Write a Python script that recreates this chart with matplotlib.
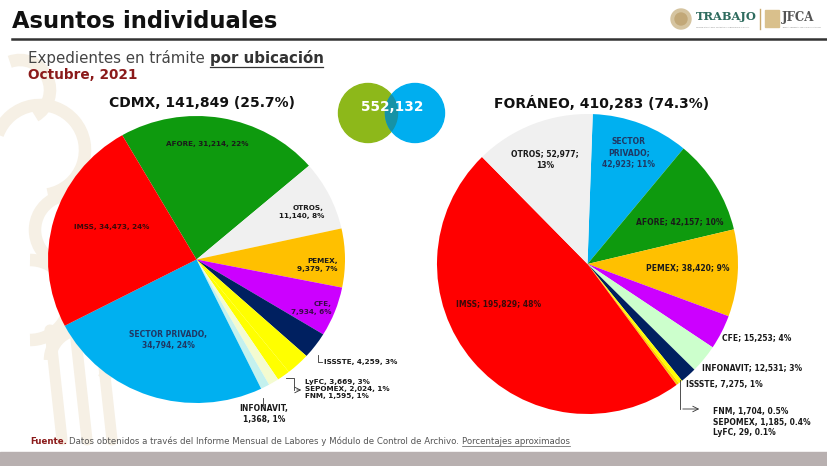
import matplotlib
matplotlib.use('Agg')
import matplotlib.pyplot as plt
from matplotlib.patches import Circle, Rectangle, Arc, Polygon
import numpy as np

W, H = 828, 466

# ---------------- data ----------------
cdmx_cats = ['AFORE', 'OTROS', 'PEMEX', 'CFE', 'ISSSTE', 'LyFC', 'SEPOMEX', 'FNM',
             'INFONAVIT', 'SECTOR PRIVADO', 'IMSS']
cdmx_vals = [31214, 11140, 9379, 7934, 4259, 3669, 2024, 1595, 1368, 34794, 34473]
cdmx_pcts = ['22%', '8%', '7%', '6%', '3%', '3%', '1%', '1%', '1%', '24%', '24%']
cdmx_colors = ['#0E9A0E', '#F0F0F0', '#FFC000', '#CC00FF', '#002060', '#FFFF00',
               '#FFFF00', '#F4FBD0', '#C4F1EE', '#00B0F0', '#FF0000']

for_cats = ['SECTOR PRIVADO', 'AFORE', 'PEMEX', 'CFE', 'INFONAVIT', 'ISSSTE', 'FNM',
            'SEPOMEX', 'LyFC', 'IMSS', 'OTROS']
for_vals = [42923, 42157, 38420, 15253, 12531, 7275, 1704, 1185, 29, 195829, 52977]
for_pcts = ['11%', '10%', '9%', '4%', '3%', '1%', '0.5%', '0.4%', '0.1%', '48%', '13%']
for_colors = ['#00B0F0', '#0E9A0E', '#FFC000', '#CC00FF', '#CCFFCC', '#002060',
              '#FFFF00', '#FFD000', '#FFFF00', '#FF0000', '#F0F0F0']

cdmx_total, cdmx_share = 141849, '25.7%'
for_total, for_share = 410283, '74.3%'
grand_total = 552132


def fmt(v):
    return f'{v:,}'


fig = plt.figure(figsize=(W / 100, H / 100), dpi=100)
fig.patch.set_facecolor('white')


def px_axes(x0, y0, x1, y1, z=1):
    return fig.add_axes([x0 / W, 1 - y1 / H, (x1 - x0) / W, (y1 - y0) / H], zorder=z)


# background overlay (under pies) for decorative motif
bg = px_axes(0, 0, W, H, z=0)
bg.set_xlim(0, W); bg.set_ylim(H, 0); bg.axis('off')
beige = '#F6F0E5'
for (cx, cy, r, t1, t2) in [(40, 150, 45, 200, 80), (70, 230, 35, 120, 360),
                            (30, 300, 40, 270, 90), (80, 360, 30, 180, 400),
                            (20, 90, 30, 250, 60)]:
    bg.add_patch(Arc((cx, cy), 2 * r, 2 * r, theta1=t1, theta2=t2, color=beige, lw=9))
for xx in [50, 75, 100]:
    bg.plot([xx, xx + 12], [330, 440], color=beige, lw=8, solid_capstyle='round')

# ---------------- pies ----------------
axL = px_axes(48, 116, 345, 403, z=1)
axL.pie(cdmx_vals, colors=cdmx_colors, startangle=120, counterclock=False,
        wedgeprops=dict(linewidth=0))
axL.set_aspect('auto'); axL.set_xlim(-1, 1); axL.set_ylim(-1, 1); axL.axis('off')

axR = px_axes(437, 114, 738, 414, z=1)
axR.pie(for_vals, colors=for_colors, startangle=88, counterclock=False,
        wedgeprops=dict(linewidth=0))
axR.set_aspect('auto'); axR.set_xlim(-1, 1); axR.set_ylim(-1, 1); axR.axis('off')

# ---------------- overlay ----------------
ov = px_axes(0, 0, W, H, z=5)
ov.set_xlim(0, W); ov.set_ylim(H, 0); ov.axis('off')
ov.patch.set_alpha(0)
inv = ov.transData.inverted()


def right_end(t):
    fig.canvas.draw()
    return inv.transform((t.get_window_extent().x1, 0))[0]


# header
ov.text(12, 21, 'Asuntos individuales', fontsize=16.3, fontweight='bold', color='#111111',
        ha='left', va='center')
ov.plot([12, W], [39, 39], color='#333333', lw=1.8)

# logos
ov.add_patch(Circle((681, 19), 10, color='#D5C4A0'))
ov.add_patch(Circle((681, 19), 6, color='#C2A878'))
ov.text(696, 16, 'TRABAJO', fontsize=8.2, fontweight='bold', family='DejaVu Serif',
        color='#2E6B5E', ha='left', va='center')
ov.text(696, 27, 'SECRETARÍA DEL TRABAJO Y PREVISIÓN SOCIAL', fontsize=1.6,
        color='#888888', ha='left', va='center')
ov.plot([760, 760], [9, 29], color='#C9A96E', lw=1)
ov.add_patch(Rectangle((765, 10), 14, 17, color='#D9C08C'))
ov.text(782, 17, 'JFCA', fontsize=8.5, fontweight='bold', family='DejaVu Serif',
        color='#555555', ha='left', va='center')
ov.text(782, 27, 'JUNTA FEDERAL DE CONCILIACIÓN', fontsize=1.6, color='#888888',
        ha='left', va='center')

# subtitle
t1 = ov.text(28, 58, 'Expedientes en trámite ', fontsize=10.8, color='#444444',
             ha='left', va='center')
xe = right_end(t1)
t2 = ov.text(xe, 58, 'por ubicación', fontsize=10.8, color='#333333',
             fontweight='bold', ha='left', va='center')
xe2 = right_end(t2)
ov.plot([xe, xe2], [66.5, 66.5], color='#333333', lw=0.9)
ov.text(28, 75, 'Octubre, 2021', fontsize=9.8, color='#8B1A1A', fontweight='bold',
        ha='left', va='center')

# pie titles
ov.text(202, 103, f'CDMX, {fmt(cdmx_total)} ({cdmx_share})', fontsize=10,
        fontweight='bold', color='#111111', ha='center', va='center')
ov.text(602, 103, f'FORÁNEO, {fmt(for_total)} ({for_share})', fontsize=10,
        fontweight='bold', color='#111111', ha='center', va='center')

# Venn total
c1, c2, rv = (368, 113), (415, 113), 29.5
ov.add_patch(Circle(c1, rv, color='#8DB81A', zorder=1))
ov.add_patch(Circle(c2, rv, color='#00AEEF', zorder=2))
d = c2[0] - c1[0]
th = np.arccos((d / 2) / rv)
a1 = np.linspace(-th, th, 40)
a2 = np.linspace(np.pi - th, np.pi + th, 40)
lens = np.vstack([np.column_stack([c1[0] + rv * np.cos(a1), c1[1] + rv * np.sin(a1)]),
                  np.column_stack([c2[0] + rv * np.cos(a2), c2[1] + rv * np.sin(a2)])])
ov.add_patch(Polygon(lens, closed=True, color='#1692A6', zorder=3))
ov.text(392, 107, fmt(grand_total), fontsize=9.8, fontweight='bold', color='white',
        ha='center', va='center', zorder=4)

LF = 5.2
dark = '#1A1A1A'
navy = '#1F3864'


def L(cats, vals, pcts, name, sep):
    i = cats.index(name)
    return f'{cats[i]}{sep}{fmt(vals[i])}{sep}{pcts[i]}'


def parts(cats, vals, pcts, name):
    i = cats.index(name)
    return cats[i], fmt(vals[i]), pcts[i]


# ---- left pie labels
c = (cdmx_cats, cdmx_vals, cdmx_pcts)
ov.text(207, 144, L(*c, 'AFORE', ', '), fontsize=LF, fontweight='bold', color=dark,
        ha='center', va='center')
ov.text(112, 227, L(*c, 'IMSS', ', '), fontsize=LF, fontweight='bold', color='#3A0A0A',
        ha='center', va='center')
n, v, p = parts(*c, 'OTROS')
ov.text(324, 212, f'{n},\n{v}, {p}', fontsize=LF, fontweight='bold', color=dark,
        ha='right', va='center', linespacing=1.3)
n, v, p = parts(*c, 'PEMEX')
ov.text(338, 265, f'{n},\n{v}, {p}', fontsize=LF, fontweight='bold', color=dark,
        ha='right', va='center', linespacing=1.3)
n, v, p = parts(*c, 'CFE')
ov.text(332, 308, f'{n},\n{v}, {p}', fontsize=LF, fontweight='bold', color='#3A0A4A',
        ha='right', va='center', linespacing=1.3)
n, v, p = parts(*c, 'SECTOR PRIVADO')
ov.text(168, 340, f'{n},\n{v}, {p}', fontsize=LF + 0.3, fontweight='bold', color=navy,
        ha='center', va='center', linespacing=1.3)
ov.text(324, 362, L(*c, 'ISSSTE', ', '), fontsize=LF, fontweight='bold', color=dark,
        ha='left', va='center')
ov.plot([318, 318, 322], [355, 362, 362], color='#333333', lw=0.6)
small = '\n'.join(L(*c, k, ', ') for k in ['LyFC', 'SEPOMEX', 'FNM'])
ov.text(305, 389, small, fontsize=LF, fontweight='bold', color=dark,
        ha='left', va='center', linespacing=1.25)
ov.plot([286, 294, 294], [378, 378, 390], color='#333333', lw=0.6)
ov.annotate('', xy=(304, 390), xytext=(294, 390),
            arrowprops=dict(arrowstyle='->', color='#333333', lw=0.6))
n, v, p = parts(*c, 'INFONAVIT')
ov.text(264, 414, f'{n},\n{v}, {p}', fontsize=LF + 0.3, fontweight='bold', color=dark,
        ha='center', va='center', linespacing=1.3)
ov.plot([263, 263], [398, 405], color='#333333', lw=0.6)

# ---- right pie labels
r = (for_cats, for_vals, for_pcts)
n, v, p = parts(*r, 'OTROS')
ov.text(545, 160, f'{n}; {v};\n{p}', fontsize=LF + 0.3, fontweight='bold', color=dark,
        ha='center', va='center', linespacing=1.35)
n, v, p = parts(*r, 'SECTOR PRIVADO')
ov.text(629, 153, n.replace(' ', '\n') + f';\n{v}; {p}',
        fontsize=LF + 0.3, fontweight='bold', color=navy, ha='center', va='center',
        linespacing=1.3)
ov.text(680, 222, L(*r, 'AFORE', '; '), fontsize=LF + 0.3, fontweight='bold', color=dark,
        ha='center', va='center')
ov.text(688, 269, L(*r, 'PEMEX', '; '), fontsize=LF + 0.3, fontweight='bold', color=dark,
        ha='center', va='center')
ov.text(499, 305, L(*r, 'IMSS', '; '), fontsize=LF + 0.3, fontweight='bold', color='#3A0A0A',
        ha='center', va='center')
ov.text(722, 339, L(*r, 'CFE', '; '), fontsize=LF + 0.3, fontweight='bold', color=dark,
        ha='left', va='center')
ov.text(702, 368, L(*r, 'INFONAVIT', '; '), fontsize=LF + 0.3, fontweight='bold', color=dark,
        ha='left', va='center')
ov.text(686, 384, L(*r, 'ISSSTE', ', '), fontsize=LF + 0.3, fontweight='bold', color=dark,
        ha='left', va='center')
small_r = '\n'.join(L(*r, k, ', ') for k in ['FNM', 'SEPOMEX', 'LyFC'])
ov.text(713, 422, small_r, fontsize=LF + 0.3, fontweight='bold', color=dark,
        ha='left', va='center', linespacing=1.25)
ov.plot([680, 680], [380, 409], color='#333333', lw=0.6)
ov.annotate('', xy=(702, 409), xytext=(680, 409),
            arrowprops=dict(arrowstyle='->', color='#333333', lw=0.6))

# footer
FS = 6.2
f1 = ov.text(30, 441, 'Fuente.', fontsize=FS, fontweight='bold', color='#8B1A1A',
             ha='left', va='center')
xa = right_end(f1)
f2 = ov.text(xa + 2, 441, 'Datos obtenidos a través del Informe Mensual de Labores y '
             'Módulo de Control de Archivo. ', fontsize=FS, color='#555555',
             ha='left', va='center')
xb = right_end(f2)
f3 = ov.text(xb, 441, 'Porcentajes aproximados', fontsize=FS, color='#555555',
             ha='left', va='center')
xc = right_end(f3)
ov.plot([xb, xc], [445.5, 445.5], color='#555555', lw=0.5)

ov.add_patch(Rectangle((0, 452), W, H - 452, color='#B8B0B0'))

fig.savefig('out.png', dpi=100)
